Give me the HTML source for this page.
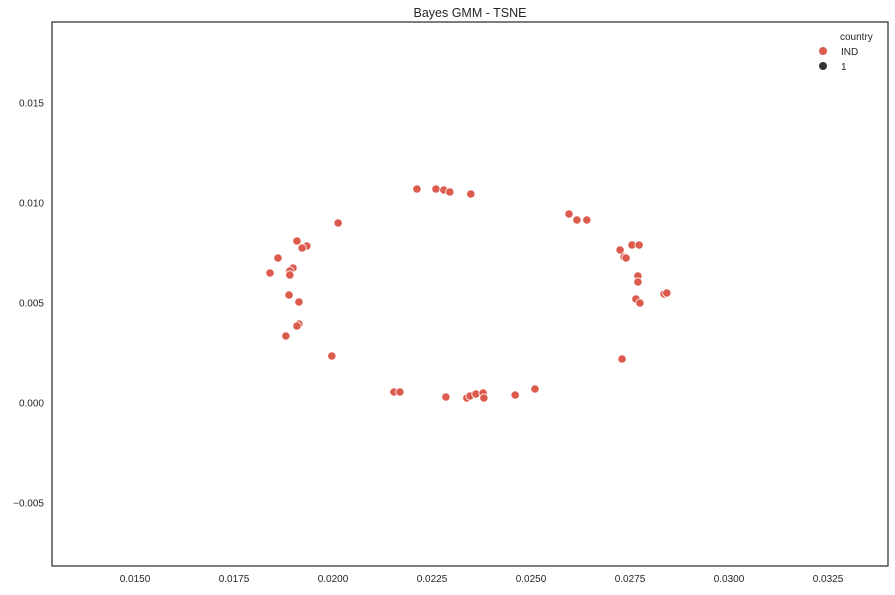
<!DOCTYPE html>
<html><head><meta charset="utf-8"><style>
body{margin:0;background:#fff;}
svg text{font-family:"Liberation Sans","DejaVu Sans",sans-serif;fill:#262626;}
</style></head><body>
<svg id="chart" width="895" height="590" xmlns="http://www.w3.org/2000/svg">
<text x="470" y="17" font-size="12.5" text-anchor="middle">Bayes GMM - TSNE</text>
<g id="marks"></g>
<rect x="52" y="22" width="836" height="544" fill="none" stroke="#262626" stroke-width="1.2"/>
<g id="xt"></g>
<g id="yt"></g>
<g>
<text x="840" y="40" font-size="10">country</text>
<circle cx="823" cy="51" r="4" fill="#dd5b4d"/>
<text x="841" y="55" font-size="10">IND</text>
<circle cx="823" cy="66" r="4" fill="#333"/>
<text x="841" y="70" font-size="10">1</text>
</g>
</svg>
<script>
const xs=[0.02212,0.02260,0.02280,0.02295,0.02348,0.02013,0.02596,0.02616,0.02641,0.01909,0.01934,0.01922,0.01861,0.01899,0.01841,0.01891,0.01891,0.02755,0.02773,0.02725,0.02735,0.02740,0.02770,0.02770,0.01889,0.01914,0.02765,0.02775,0.02836,0.02843,0.01914,0.01909,0.01881,0.01997,0.02730,0.02154,0.02169,0.02285,0.02338,0.02346,0.02361,0.02379,0.02381,0.02460,0.02510];
const ys=[0.01070,0.01070,0.01065,0.01055,0.01045,0.00900,0.00945,0.00915,0.00915,0.00810,0.00785,0.00775,0.00725,0.00675,0.00650,0.00660,0.00640,0.00790,0.00790,0.00765,0.00730,0.00725,0.00635,0.00605,0.00540,0.00505,0.00520,0.00500,0.00545,0.00550,0.00395,0.00385,0.00335,0.00235,0.00220,0.00055,0.00055,0.00030,0.00025,0.00035,0.00045,0.00050,0.00025,0.00040,0.00070];
const xTicks=[0.015,0.0175,0.02,0.0225,0.025,0.0275,0.03,0.0325];
const xTickLabels=["0.0150","0.0175","0.0200","0.0225","0.0250","0.0275","0.0300","0.0325"];
const yTicks=[0.015,0.01,0.005,0,-0.005];
const yTickLabels=["0.015","0.010","0.005","0.000","\u22120.005"];
const X=v=>52+(v-0.012904)/(0.034015-0.012904)*836;
const Y=v=>22+(0.01905-v)/(0.01905+0.00815)*544;
const NS="http://www.w3.org/2000/svg";
const m=document.getElementById('marks');
xs.forEach((x,i)=>{const c=document.createElementNS(NS,'circle');


c.setAttribute('cx',X(x));c.setAttribute('cy',Y(ys[i]));c.setAttribute('r',4.2);
c.setAttribute('fill','#dd5b4d');c.setAttribute('stroke','#fff');c.setAttribute('stroke-width',0.8);m.appendChild(c);});
const xt=document.getElementById('xt');
xTicks.forEach((v,i)=>{const t=document.createElementNS(NS,'text');


t.setAttribute('x',X(v));t.setAttribute('y',582);t.setAttribute('font-size',10);t.setAttribute('text-anchor','middle');t.textContent=xTickLabels[i];xt.appendChild(t);});
const yt=document.getElementById('yt');
yTicks.forEach((v,i)=>{const t=document.createElementNS(NS,'text');


t.setAttribute('x',44);t.setAttribute('y',Y(v)+3.5);t.setAttribute('font-size',10);t.setAttribute('text-anchor','end');t.textContent=yTickLabels[i];yt.appendChild(t);});
</script>
</body></html>
